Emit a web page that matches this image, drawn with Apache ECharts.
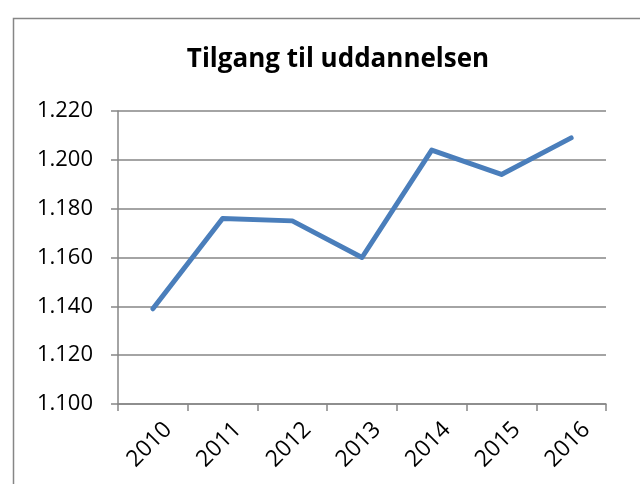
<!DOCTYPE html>
<html>
<head>
<meta charset="utf-8">
<script src="https://cdn.jsdelivr.net/npm/echarts@6/dist/echarts.min.js"></script>
<style>
  html, body { margin: 0; padding: 0; background: #fff; }
  #chart { width: 640px; height: 484px; }
</style>
</head>
<body>
<div id="chart"></div>
<script>
// data
const years = ['2010', '2011', '2012', '2013', '2014', '2015', '2016']
const tilgang = [1139, 1176, 1175, 1160, 1204, 1194, 1209]
const yMin = 1100
const yMax = 1220
const yStep = 20

const gray = '#868686'
const fontFamily = '"Open Sans", "Noto Sans", sans-serif'

function danish(v) {
  // 1220 -> "1.220"
  return String(v).replace(/\B(?=(\d{3})+(?!\d))/g, '.')
}

const chart = echarts.init(document.getElementById('chart'), null, { renderer: 'canvas' })

chart.setOption({
  animation: false,
  backgroundColor: '#fff',
  graphic: [
    {
      type: 'rect',
      shape: { x: 13.5, y: 18.5, width: 700, height: 600 },
      style: { fill: 'none', stroke: gray, lineWidth: 1.5 },
      silent: true,
    },
  ],
  title: {
    text: 'Tilgang til uddannelsen',
    left: 333,
    top: 42,
    textAlign: 'center',
    textStyle: { fontFamily, fontSize: 26, fontWeight: 'bold', color: '#000' },
  },
  grid: { left: 118, right: 34, top: 111, bottom: 80, containLabel: false },
  xAxis: {
    type: 'category',
    data: years,
    boundaryGap: true,
    axisLine: { lineStyle: { color: gray, width: 1.5 } },
    axisTick: { show: true, length: 7, lineStyle: { color: gray, width: 1.5 } },
    axisLabel: {
      rotate: 45,
      margin: 21,
      verticalAlign: 'top',
      padding: [0, -10, 0, 0],
      color: '#000',
      fontFamily,
      fontSize: 23,
    },
  },
  yAxis: {
    type: 'value',
    min: yMin,
    max: yMax,
    interval: yStep,
    axisLine: { show: true, lineStyle: { color: gray, width: 1.5 } },
    axisTick: { show: true, length: 7, lineStyle: { color: gray, width: 1.5 } },
    splitLine: { lineStyle: { color: gray, width: 1.5 } },
    axisLabel: { margin: 25, color: '#000', fontFamily, fontSize: 22, formatter: danish },
  },
  series: [
    {
      type: 'line',
      data: tilgang,
      symbol: 'none',
      lineStyle: { color: '#4a7ebb', width: 5, cap: 'round', join: 'round' },
    },
  ],
})
</script>
</body>
</html>
